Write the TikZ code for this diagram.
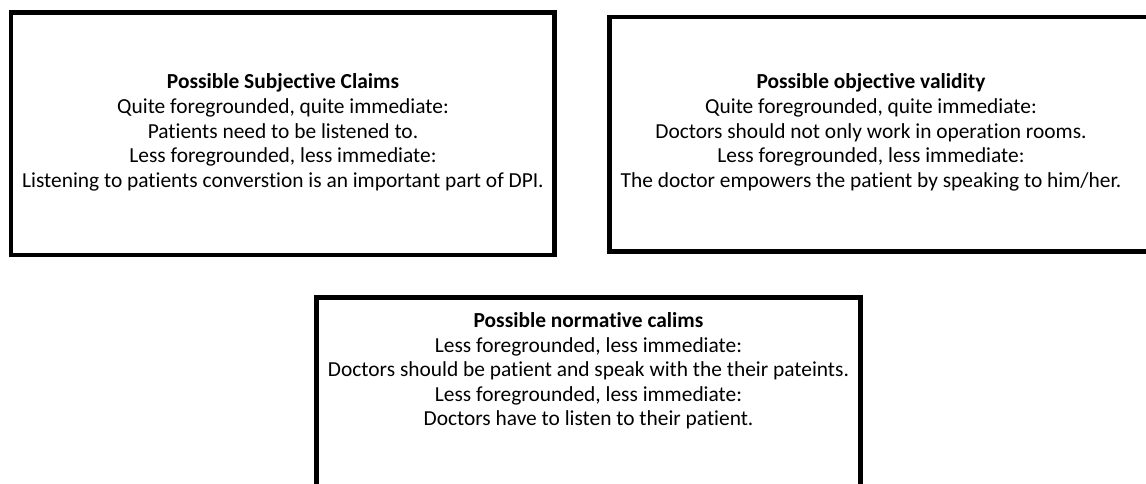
\documentclass[tikz,border=0pt]{standalone}
\usepackage{fontspec}
\setmainfont{Carlito}[RawFeature={-liga;-clig}]
\begin{document}
\begin{tikzpicture}[x=1pt,y=-1pt,
  claimbox/.style={draw=black, line width=4.5pt, inner sep=0pt, outer sep=0pt},
  claimtext/.style={align=center, inner sep=0pt, font=\fontsize{21.4}{24.6}\selectfont}]
\useasboundingbox (0,0) rectangle (1146,483);
\node[claimbox, minimum width=543.5pt, minimum height=242.5pt] (b1) at (282.75,133.75) {};
\node[claimbox, minimum width=541.5pt, minimum height=234.5pt] (b2) at (880.25,134.25) {};
\node[claimbox, minimum width=544pt, minimum height=232.5pt] (b3) at (588.5,413.75) {};
\node[claimtext] (t1) at (283,132.5) {\textbf{Possible Subjective Claims}\\
Quite foregrounded, quite immediate:\\
Patients need to be listened to.\\
Less foregrounded, less immediate:\\
Listening to patients converstion is an important part of DPI.};
\node[claimtext] (t2) at (871,132.5) {\textbf{Possible objective validity}\\
Quite foregrounded, quite immediate:\\
Doctors should not only work in operation rooms.\\
Less foregrounded, less immediate:\\
The doctor empowers the patient by speaking to him/her.};
\node[claimtext] (t3) at (588.5,371) {\textbf{Possible normative calims}\\
Less foregrounded, less immediate:\\
Doctors should be patient and speak with the their pateints.\\
Less foregrounded, less immediate:\\
Doctors have to listen to their patient.};
\end{tikzpicture}
\end{document}
